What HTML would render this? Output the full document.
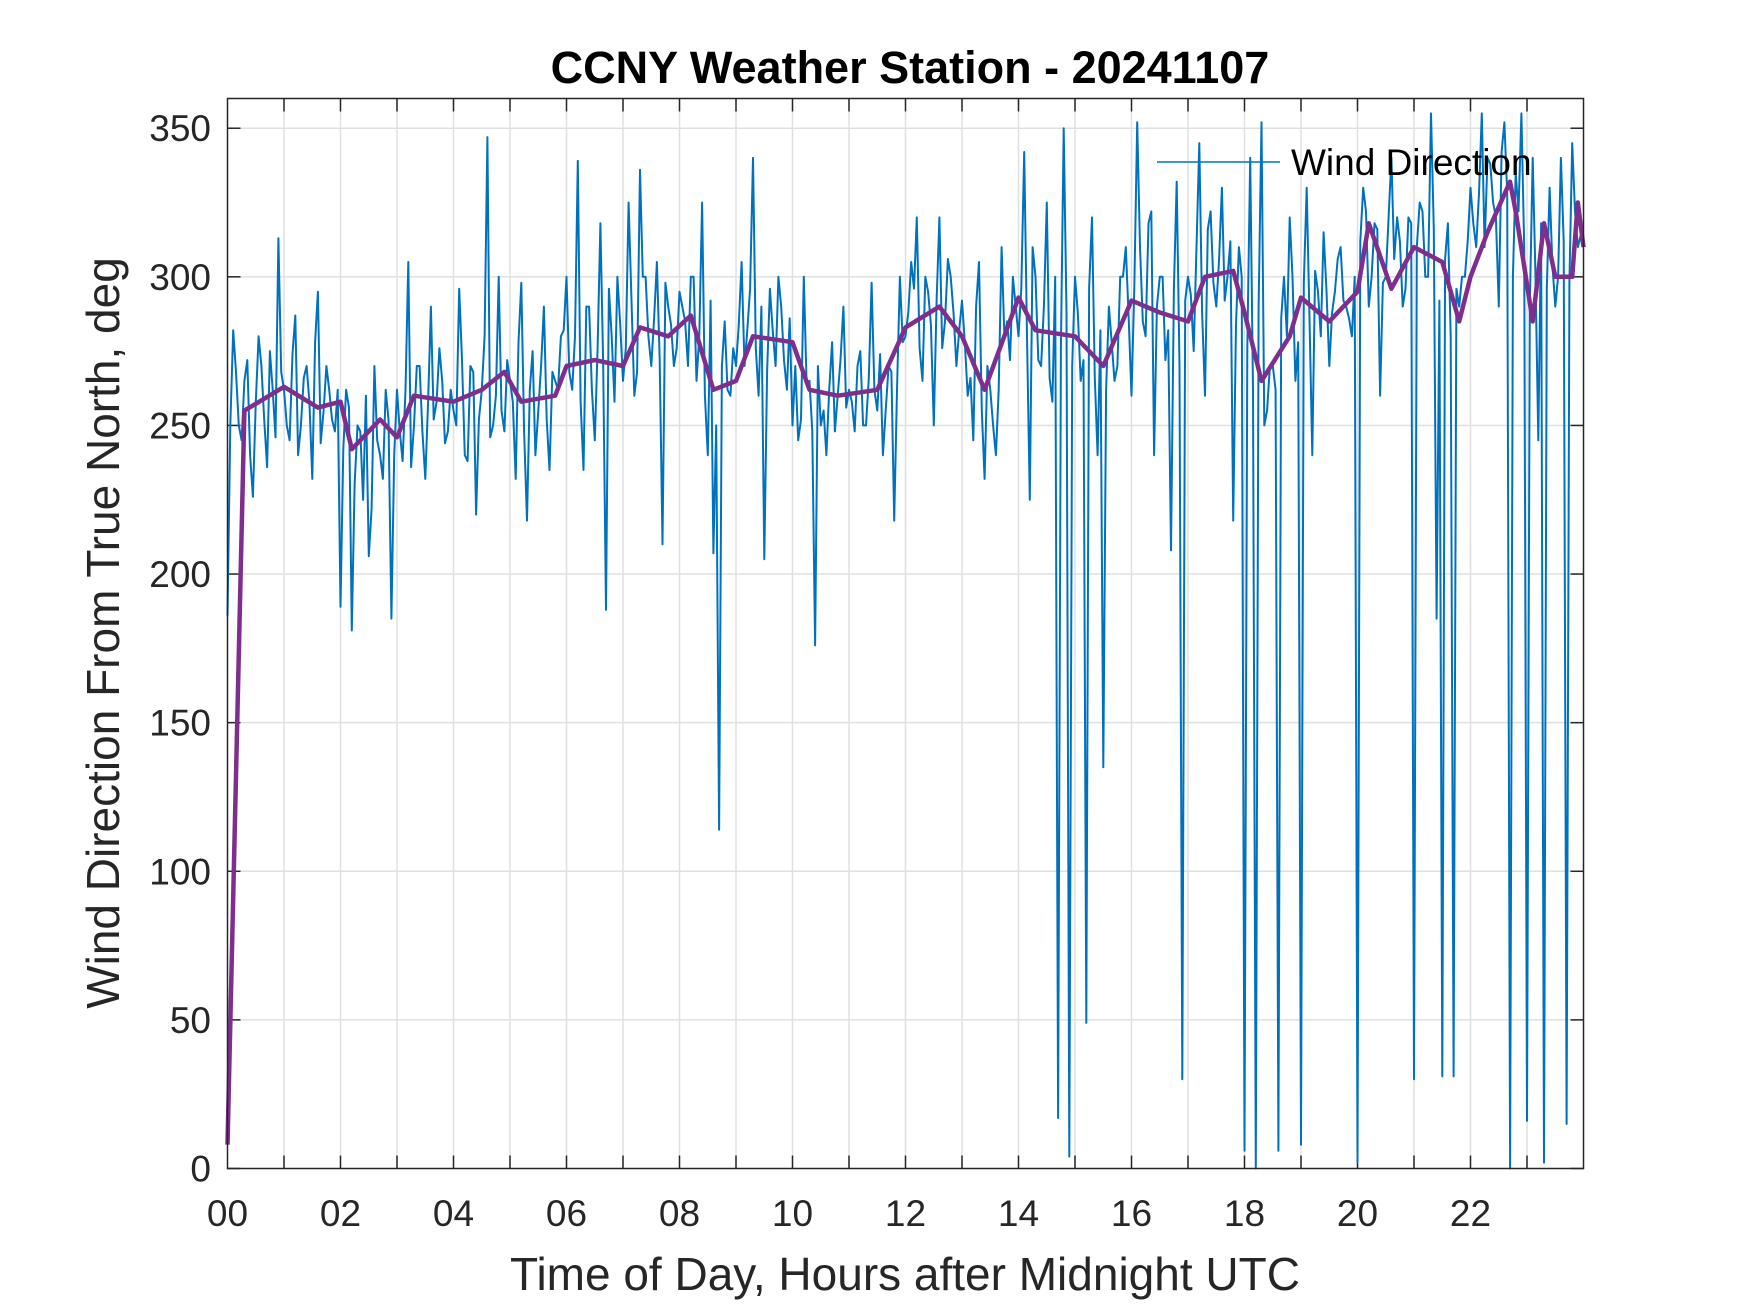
<!DOCTYPE html>
<html><head><meta charset="utf-8"><style>
html,body{margin:0;padding:0;background:#fff}
svg{display:block;font-family:"Liberation Sans",Arial,sans-serif}
</style></head><body>
<svg id="chart" width="1750" height="1313" viewBox="0 0 1750 1313">
<rect width="1750" height="1313" fill="#fff"/>
<text x="910" y="83" text-anchor="middle" font-size="45" font-weight="bold" fill="#000">CCNY Weather Station - 20241107</text>
<g id="grid"></g><g id="ticks"></g>
<g id="series"></g>
<rect x="227.5" y="98.5" width="1356" height="1070" fill="none" stroke="#262626" stroke-width="1.5"/>
<g>
<line x1="1157" y1="162" x2="1280" y2="162" stroke="#0072BD" stroke-width="1.5"/>
<text x="1291" y="175" font-size="37" fill="#000">Wind Direction</text>
</g>
<text x="905" y="1290" text-anchor="middle" font-size="46" fill="#262626">Time of Day, Hours after Midnight UTC</text>
<text transform="translate(119,633) rotate(-90)" text-anchor="middle" font-size="46" fill="#262626">Wind Direction From True North, deg</text>
</svg>
<script>
const xTicks=[0,2,4,6,8,10,12,14,16,18,20,22];
const xTickLabels=["00","02","04","06","08","10","12","14","16","18","20","22"];
const yTicks=[0,50,100,150,200,250,300,350];
const windDir=[
186,282,250,265,240,258,270,236,262,313,
262,245,287,250,270,232,295,255,262,248,
189,262,181,250,225,206,270,240,262,185,
262,238,305,250,270,232,290,258,265,248,
255,296,240,270,220,262,347,250,300,248,
265,232,298,218,275,255,290,235,265,280,
300,262,339,235,290,245,318,188,280,300,
265,325,260,336,300,270,305,210,290,270,
295,285,300,265,325,240,207,114,285,260,
270,305,282,340,260,205,296,270,290,262,
250,245,300,265,176,250,240,278,260,290,
262,248,275,250,298,255,240,270,218,300,
280,305,320,265,295,250,320,285,300,270,
292,260,245,305,232,262,240,310,285,300,
280,342,225,300,270,325,258,17,350,4,
300,265,49,320,240,135,290,265,300,310,
260,352,285,318,240,300,272,208,332,30,
300,275,345,260,322,290,330,300,218,310,
6,340,0,352,255,270,6,300,320,265,
8,330,240,295,315,270,295,310,290,280,
2,330,290,318,260,300,340,320,290,320,
30,325,300,355,185,31,318,31,290,300,
330,310,355,340,325,290,352,0,335,355,
16,340,245,2,330,290,340,15,345,310];
const windDir2=[
250,268,245,272,226,280,252,275,246,268,
250,274,240,266,258,278,244,270,252,262,
242,256,230,248,260,222,245,232,252,240,
248,262,236,270,248,258,252,276,244,262,
250,272,238,268,252,280,246,260,255,272,
258,278,248,262,240,270,252,268,262,282,
268,280,258,290,262,276,270,296,258,284,
276,292,268,300,280,286,272,298,284,276,
290,270,300,280,260,292,250,270,262,276,
284,270,296,276,290,268,282,300,272,286,
270,252,264,248,270,255,262,248,272,256,
258,270,250,266,262,274,255,268,262,278,
288,296,276,300,284,292,276,306,288,282,
278,266,290,255,270,250,262,280,272,290,
296,280,310,272,290,266,300,276,288,270,
288,272,296,266,282,262,278,270,300,286,
296,310,280,322,290,300,282,296,270,292,
294,310,288,316,298,306,292,312,284,300,
276,262,290,250,270,262,286,280,300,278,
298,286,302,280,296,288,306,292,286,300,
312,322,300,316,298,320,306,312,296,318,
310,322,300,316,292,306,280,296,300,312,
318,328,310,338,320,342,328,300,322,310,
290,300,318,296,304,300,312,298,322,314];
const avgTime=[0,0.3,1,1.6,2,2.2,2.7,3,3.3,4,4.5,4.9,5.2,5.8,6,6.5,7,7.3,7.8,8.2,8.6,9,9.3,10,10.3,10.8,11.5,12,12.6,13,13.4,14,14.3,15,15.5,16,16.5,17,17.3,17.8,18,18.3,18.8,19,19.5,20,20.2,20.6,21,21.5,21.8,22,22.3,22.7,22.8,23.1,23.3,23.5,23.8,23.9,24];
const avgDir=[8,255,263,256,258,242,252,246,260,258,262,268,258,260,270,272,270,283,280,287,262,265,280,278,262,260,262,283,290,280,262,293,282,280,270,292,288,285,300,302,288,265,280,293,285,295,318,296,310,305,285,300,315,332,322,285,318,300,300,325,310];
const L=227.5,R=1583.5,T=98.5,B=1168.5;
const xs=h=>L+(h/24)*(R-L);
const ys=v=>B-(v/360)*(B-T);
const NS="http://www.w3.org/2000/svg";
function mk(tag,attrs,parent){const e=document.createElementNS(NS,tag);for(const k in attrs)e.setAttribute(k,attrs[k]);parent.appendChild(e);return e;}
const grid=document.getElementById('grid'),ticks=document.getElementById('ticks'),series=document.getElementById('series');
for(let h=1;h<24;h++){
  const g=mk('line',{x1:xs(h),x2:xs(h),y1:T,y2:B,stroke:'#e0e0e0','stroke-width':1.5},grid);
  
  
  const t1=mk('line',{x1:xs(h),x2:xs(h),y1:B,y2:B-13,stroke:'#262626','stroke-width':1.5},ticks);
  
  
  const t2=mk('line',{x1:xs(h),x2:xs(h),y1:T,y2:T+13,stroke:'#262626','stroke-width':1.5},ticks);
  
  
}
xTicks.forEach((h,i)=>{
  const t=mk('text',{x:xs(h),y:1226,'text-anchor':'middle','font-size':37,fill:'#262626'},ticks);
  t.textContent=xTickLabels[i];
  
  
});
yTicks.forEach(v=>{
  if(v>0){const g=mk('line',{x1:L,x2:R,y1:ys(v),y2:ys(v),stroke:'#e0e0e0','stroke-width':1.5},grid);
  
  }
  const a=mk('line',{x1:L,x2:L+13,y1:ys(v),y2:ys(v),stroke:'#262626','stroke-width':1.5},ticks);
  
  
  const b=mk('line',{x1:R,x2:R-13,y1:ys(v),y2:ys(v),stroke:'#262626','stroke-width':1.5},ticks);
  
  
  const t=mk('text',{x:211,y:ys(v)+13,'text-anchor':'end','font-size':37,fill:'#262626'},ticks);
  t.textContent=v;
  
  
});
const n=windDir.length;
const step=24/n;
const pts=[];
for(let i=0;i<n;i++){
  pts.push(xs(i*step).toFixed(1)+','+ys(windDir[i]).toFixed(1));
  pts.push(xs((i+0.5)*step).toFixed(1)+','+ys(windDir2[i]).toFixed(1));
}
const blue=mk('polyline',{points:pts.join(' '),fill:'none',stroke:'#0072BD','stroke-width':2,'stroke-linejoin':'round'},series);


const p2=avgDir.map((v,i)=>xs(avgTime[i]).toFixed(1)+','+ys(v).toFixed(1)).join(' ');
const purple=mk('polyline',{points:p2,fill:'none',stroke:'#7E2F8E','stroke-width':4.5,'stroke-linejoin':'round'},series);


</script>
</body></html>
